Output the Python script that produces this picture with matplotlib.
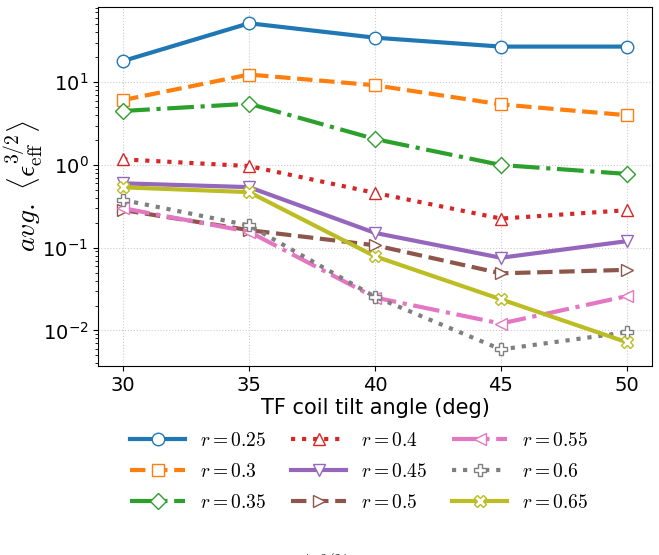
import matplotlib
matplotlib.use("Agg")
import matplotlib.pyplot as plt
import numpy as np

plt.rcParams["mathtext.fontset"] = "cm"

angles = [30, 35, 40, 45, 50]
radii = ["0.25", "0.3", "0.35", "0.4", "0.45", "0.5", "0.55", "0.6", "0.65"]
eps_r025 = [18.1, 51.7, 34.6, 27.0, 27.0]
eps_r030 = [6.1, 12.4, 9.2, 5.4, 4.0]
eps_r035 = [4.5, 5.5, 2.06, 1.0, 0.78]
eps_r040 = [1.17, 0.97, 0.46, 0.225, 0.284]
eps_r045 = [0.6, 0.54, 0.151, 0.0756, 0.12]
eps_r050 = [0.285, 0.163, 0.107, 0.049, 0.054]
eps_r055 = [0.3, 0.156, 0.025, 0.0121, 0.026]
eps_r060 = [0.377, 0.186, 0.0255, 0.0059, 0.0095]
eps_r065 = [0.537, 0.47, 0.0787, 0.0238, 0.0072]
series = [eps_r025, eps_r030, eps_r035, eps_r040, eps_r045,
          eps_r050, eps_r055, eps_r060, eps_r065]

colors = ["#1f77b4", "#ff7f0e", "#2ca02c", "#d62728", "#9467bd",
          "#8c564b", "#e377c2", "#7f7f7f", "#bcbd22"]
markers = ["o", "s", "D", "^", "v", ">", "<", "P", "X"]
styles = ["-", "--", "-.", ":", "-", "--", "-.", ":", "-"]

fig = plt.figure(figsize=(6.59, 5.55), dpi=100)
ax = fig.add_axes([98/659, 1-366/555, (652-98)/659, (366-7)/555])

for r, ys, c, m, ls in zip(radii, series, colors, markers, styles):
    ax.plot(angles, ys, color=c, marker=m, linestyle=ls, linewidth=3,
            markersize=9 if m != "D" else 8, markerfacecolor="white",
            markeredgecolor=c, markeredgewidth=1.0, label=f"$r={r}$")

ax.set_yscale("log")
ax.set_xlim(29, 51)
ax.set_ylim(10**-2.43, 10**1.91)
ax.set_xticks(angles)
ax.tick_params(labelsize=14)
ax.grid(True, linestyle=":", color="#cccccc", linewidth=0.8)
ax.set_xlabel("TF coil tilt angle (deg)", fontsize=15, labelpad=2)
ax.set_ylabel(r"$avg.\ \langle \epsilon_{\mathrm{eff}}^{3/2} \rangle$", fontsize=20)
ax.yaxis.set_label_coords((47 - 98) / 554, 0.5)

fig.legend(loc="upper center", bbox_to_anchor=(0.545, 1-413/555), ncol=3,
           frameon=False, fontsize=14, handlelength=2.8, columnspacing=1.3,
           handletextpad=0.77, labelspacing=0.62)

fig.text(303/659, 4/555, r"$avg.\ \langle \epsilon_{\mathrm{eff}}^{3/2} \rangle$",
         fontsize=15, ha="center", va="top")

fig.savefig("out.png", dpi=100)
